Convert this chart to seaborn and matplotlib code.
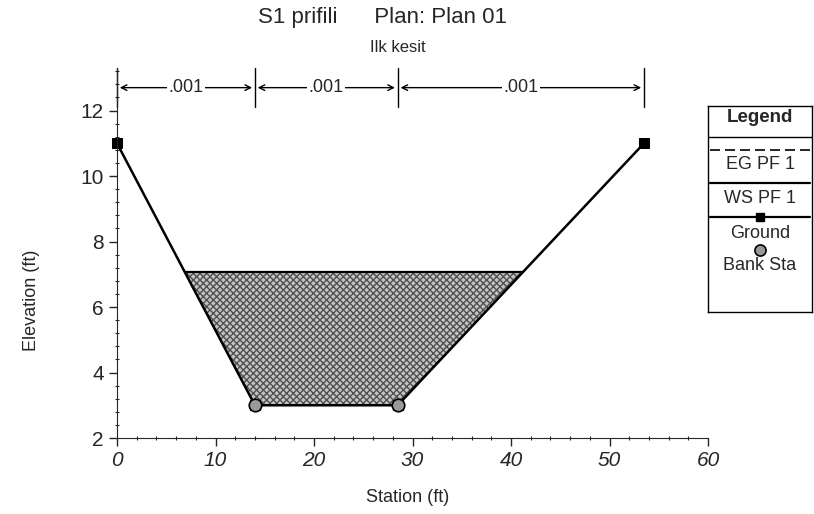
import numpy as np
import matplotlib
matplotlib.use('Agg')
import matplotlib.pyplot as plt
from matplotlib.ticker import MultipleLocator, AutoMinorLocator
import seaborn as sns

# cross section data
station = [0, 14, 28.5, 53.5]
ground = [11, 3, 3, 11]
bank_sta = [14, 28.5]
ws_pf1 = 7.06
eg_pf1 = 7.08
n_breaks = [0, 14, 28.5, 53.5]
n_values = ['.001', '.001', '.001']

sns.set_style('ticks')
plt.rcParams['font.family'] = ['Liberation Sans', 'DejaVu Sans']


def edges(level):
    # where a flat water level meets the ground, left and right
    xs = np.array(station, dtype=float)
    ys = np.array(ground, dtype=float)
    i = int(np.argmin(ys))
    left = np.interp(level, ys[:i + 1][::-1], xs[:i + 1][::-1])
    right = np.interp(level, ys[i:], xs[i:])
    return left, right


fig = plt.figure(figsize=(8.14, 5.14), dpi=100)
ax = fig.add_axes([117 / 814, 76 / 514, 591 / 814, 370 / 514])

# water area
xs = np.linspace(station[0], station[-1], 600)
gs = np.interp(xs, station, ground)
ax.fill_between(xs, gs, ws_pf1, where=gs < ws_pf1, interpolate=True,
                facecolor='#c4c4c4', edgecolor='#505050', hatch='xxxxx', linewidth=0)

wl, wr = edges(ws_pf1)
el, er = edges(eg_pf1)
sns.lineplot(x=[el, er], y=[eg_pf1, eg_pf1], ax=ax, color='black', lw=1.2,
             linestyle=(0, (6, 3)))
sns.lineplot(x=[wl, wr], y=[ws_pf1, ws_pf1], ax=ax, color='black', lw=1.6)
sns.lineplot(x=station, y=ground, ax=ax, color='black', lw=1.8, marker='s',
             markersize=7, markeredgecolor='black', sort=False, clip_on=False)
bank_y = np.interp(bank_sta, station, ground)
ax.plot(bank_sta, bank_y, 'o', ms=9, mfc='#9a9a9a', mec='black', mew=1.2, zorder=5)

ax.set_xlim(0, 60)
ax.set_ylim(2, 13.3)
ax.xaxis.set_major_locator(MultipleLocator(10))
ax.xaxis.set_minor_locator(AutoMinorLocator(5))
ax.set_yticks([2, 4, 6, 8, 10, 12])
ax.yaxis.set_minor_locator(AutoMinorLocator(5))
ax.tick_params(which='major', length=6, width=1, labelsize=15, direction='out')
ax.tick_params(which='minor', length=3, width=0.8, direction='inout')
for t in ax.get_xticklabels():
    t.set_fontstyle('italic')
sns.despine(ax=ax)
ax.set_xlabel('')
ax.set_ylabel('')

# roughness brackets along the top
for b in n_breaks:
    ax.plot([b, b], [12.1, 13.3], color='black', lw=1, clip_on=False)
for i, v in enumerate(n_values):
    a, b = n_breaks[i], n_breaks[i + 1]
    m = (a + b) / 2
    ax.annotate('', xy=(a, 12.7), xytext=(m, 12.7),
                arrowprops=dict(arrowstyle='->', color='black', lw=1))
    ax.annotate('', xy=(b, 12.7), xytext=(m, 12.7),
                arrowprops=dict(arrowstyle='->', color='black', lw=1))
    ax.text(m, 12.7, v, ha='center', va='center', fontsize=13,
            bbox=dict(facecolor='white', edgecolor='none', pad=1))

fig.text(383 / 814, 1 - 18 / 514, 'S1 prifili      Plan: Plan 01', ha='center',
         va='center', fontsize=16)
fig.text(398 / 814, 1 - 47 / 514, 'Ilk kesit', ha='center', va='center', fontsize=12)
fig.text(408 / 814, 1 - 497 / 514, 'Station (ft)', ha='center', va='center', fontsize=13)
fig.text(32 / 814, 1 - 300 / 514, 'Elevation (ft)', ha='center', va='center',
         rotation=90, fontsize=13)

# legend box
lg = fig.add_axes([708 / 814, 202 / 514, 104 / 814, 206 / 514])
lg.set_xlim(0, 1)
lg.set_ylim(0, 1)
lg.set_xticks([])
lg.set_yticks([])
for s in lg.spines.values():
    s.set_color('black')
    s.set_linewidth(1)
lg.text(0.5, 0.942, 'Legend', ha='center', va='center', fontsize=13.5, fontweight='bold')
lg.axhline(0.85, color='black', lw=1)
lg.plot([0.02, 0.98], [0.786, 0.786], color='black', lw=1.2, linestyle=(0, (6, 3)))
lg.text(0.5, 0.714, 'EG PF 1', ha='center', va='center', fontsize=13)
lg.plot([0.02, 0.98], [0.626, 0.626], color='black', lw=1.6)
lg.text(0.5, 0.549, 'WS PF 1', ha='center', va='center', fontsize=13)
lg.plot([0.02, 0.98], [0.461, 0.461], color='black', lw=1.6)
lg.plot([0.5], [0.461], 's', color='black', ms=6)
lg.text(0.5, 0.383, 'Ground', ha='center', va='center', fontsize=13)
lg.plot([0.5], [0.301], 'o', ms=8, mfc='#9a9a9a', mec='black', mew=1.2)
lg.text(0.5, 0.228, 'Bank Sta', ha='center', va='center', fontsize=13)

fig.savefig('out.png', dpi=100)
